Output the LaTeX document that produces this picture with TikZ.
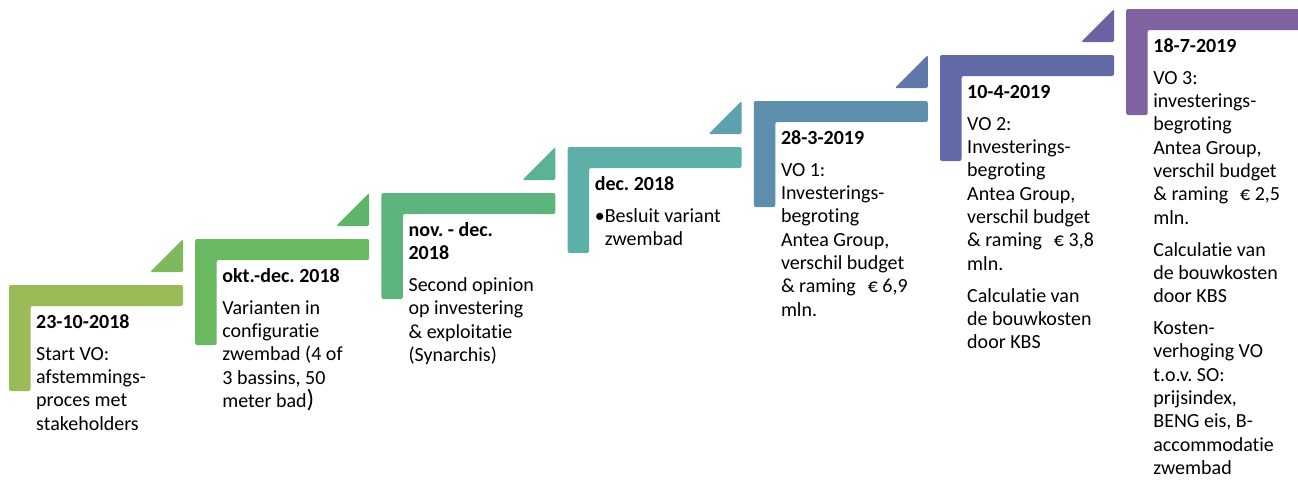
\documentclass[tikz,border=0pt]{standalone}
\usepackage{fontspec}
\setmainfont{Carlito}[Ligatures=NoCommon]
\frenchspacing
\definecolor{s1}{HTML}{9BBB59}
\definecolor{t1}{HTML}{7DB85C}
\definecolor{s2}{HTML}{6AB85F}
\definecolor{t2}{HTML}{5DB46B}
\definecolor{s3}{HTML}{5BB57D}
\definecolor{t3}{HTML}{5BB294}
\definecolor{s4}{HTML}{5CB0A8}
\definecolor{t4}{HTML}{5DA0AE}
\definecolor{s5}{HTML}{5E8EAE}
\definecolor{t5}{HTML}{5F78AA}
\definecolor{s6}{HTML}{6169A6}
\definecolor{t6}{HTML}{6E62A3}
\definecolor{s7}{HTML}{7F62A0}
\begin{document}
\begin{tikzpicture}[x=1pt,y=-1pt,
  lshape/.style={rounded corners=2pt},
  tri/.style={rounded corners=1.5pt},
  steptext/.style={anchor=north west, inner sep=0pt, align=left,
    font=\fontsize{20}{23.3}\selectfont, text=black}]
\useasboundingbox (0,0) rectangle (1298,480);
\clip (0,0) rectangle (1298,480);
\foreach \i/\c in {0/s1,1/s2,2/s3,3/s4,4/s5,5/s6,6/s7} {
  \pgfmathsetmacro\L{9+186.2*\i}
  \pgfmathsetmacro\T{285-46*\i}
  \fill[\c, lshape] (\L,\T) -- ++(174,0) -- ++(0,21) -- ++(-152.5,0) -- ++(0,85) -- ++(-21.5,0) -- cycle;
  \coordinate (txt\i) at (\L+27,\T+27);
}
\foreach \i/\c in {0/t1,1/t2,2/t3,3/t4,4/t5,5/t6} {
  \pgfmathsetmacro\L{9+186.2*\i}
  \pgfmathsetmacro\T{285-46*\i}
  \fill[\c, tri] (\L+174,\T-46) -- (\L+174,\T-13) -- (\L+141,\T-13) -- cycle;
}
\newcommand\fl{\rule{0pt}{16pt}}
\newcommand\pg{\\[8.7pt]}
\node[steptext] (n1) at (txt0) {\fl\textbf{23-10-2018}\pg
Start VO:\\afstemmings-\\proces met\\stakeholders};
\node[steptext] (n2) at (txt1) {\fl\textbf{okt.-dec. 2018}\pg
Varianten in\\configuratie\\zwembad (4 of\\3 bassins, 50\\meter bad{\fontsize{25}{23.3}\selectfont)}};
\node[steptext] (n3) at (txt2) {\fl\textbf{nov. - dec.}\\\textbf{2018}\pg
Second opinion\\op investering\\\& exploitatie\\(Synarchis)};
\node[steptext] (n4) at (txt3) {\fl\textbf{dec. 2018}\pg
\makebox[10pt][l]{•}Besluit variant\\\hspace*{10pt}zwembad};
\node[steptext] (n5) at (txt4) {\fl\textbf{28-3-2019}\pg
VO 1:\\Investerings-\\begroting\\Antea Group,\\verschil budget\\\& raming\hspace{12pt}€ 6,9\\mln.};
\node[steptext] (n6) at (txt5) {\fl\textbf{10-4-2019}\pg
VO 2:\\Investerings-\\begroting\\Antea Group,\\verschil budget\\\& raming\hspace{12pt}€ 3,8\\mln.\pg
Calculatie van\\de bouwkosten\\door KBS};
\node[steptext] (n7) at (txt6) {\fl\textbf{18-7-2019}\pg
VO 3:\\investerings-\\begroting\\Antea Group,\\verschil budget\\\& raming\hspace{12pt}€ 2,5\\mln.\pg
Calculatie van\\de bouwkosten\\door KBS\pg
Kosten-\\verhoging VO\\t.o.v. SO:\\prijsindex,\\BENG eis, B-\\accommodatie\\zwembad};
\end{tikzpicture}
\end{document}
